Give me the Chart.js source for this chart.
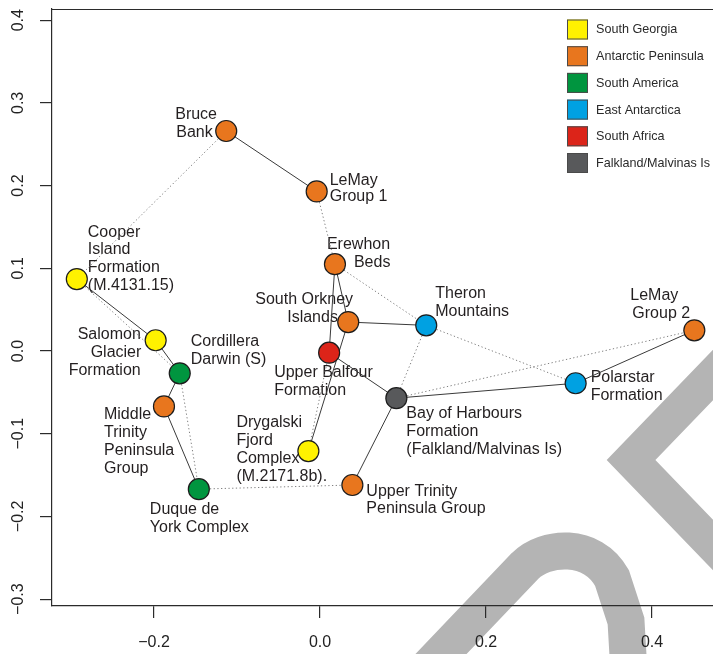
<!DOCTYPE html>
<html>
<head>
<meta charset="utf-8">
<script src="https://cdn.jsdelivr.net/npm/chart.js@4/dist/chart.umd.min.js"></script>
<style>
  html, body { margin: 0; padding: 0; background: #fff; overflow: hidden; }
  #wrap { width: 713px; height: 654px; }
</style>
</head>
<body>
<div id="wrap"><canvas id="c" width="713" height="654"></canvas></div>
<script>
// Site labels (one entry per text line), ordination scores and source region
const siteLabels = [
  ['Bruce', 'Bank'],
  ['LeMay', 'Group 1'],
  ['Cooper', 'Island', 'Formation', '(M.4131.15)'],
  ['Erewhon', 'Beds'],
  ['South Orkney', 'Islands'],
  ['Theron', 'Mountains'],
  ['LeMay', 'Group 2'],
  ['Upper Balfour', 'Formation'],
  ['Salomon', 'Glacier', 'Formation'],
  ['Cordillera', 'Darwin (S)'],
  ['Bay of Harbours', 'Formation', '(Falkland/Malvinas Is)'],
  ['Polarstar', 'Formation'],
  ['Middle', 'Trinity', 'Peninsula', 'Group'],
  ['Drygalski', 'Fjord', 'Complex', '(M.2171.8b).'],
  ['Upper Trinity', 'Peninsula Group'],
  ['Duque de', 'York Complex']
];
const siteX = [-0.113, -0.004, -0.293, 0.018, 0.034, 0.128, 0.451, 0.011,
               -0.198, -0.169, 0.092, 0.308, -0.188, -0.014, 0.039, -0.146];
const siteY = [0.266, 0.193, 0.087, 0.105, 0.035, 0.031, 0.025, -0.002,
               0.013, -0.027, -0.057, -0.039, -0.067, -0.121, -0.162, -0.167];
const groupNames = ['South Georgia', 'Antarctic Peninsula', 'South America',
                    'East Antarctica', 'South Africa', 'Falkland/Malvinas Is'];
const siteGroup = ['Antarctic Peninsula', 'Antarctic Peninsula', 'South Georgia',
                   'Antarctic Peninsula', 'Antarctic Peninsula', 'East Antarctica',
                   'Antarctic Peninsula', 'South Africa', 'South Georgia', 'South America',
                   'Falkland/Malvinas Is', 'East Antarctica', 'Antarctic Peninsula',
                   'South Georgia', 'Antarctic Peninsula', 'South America'];

// Links between sites: solid and dotted connections
const solidLinks = [
  ['Bruce Bank', 'LeMay Group 1'],
  ['Cooper Island Formation (M.4131.15)', 'Salomon Glacier Formation'],
  ['Salomon Glacier Formation', 'Cordillera Darwin (S)'],
  ['Cordillera Darwin (S)', 'Middle Trinity Peninsula Group'],
  ['Middle Trinity Peninsula Group', 'Duque de York Complex'],
  ['Erewhon Beds', 'Upper Balfour Formation'],
  ['Erewhon Beds', 'South Orkney Islands'],
  ['South Orkney Islands', 'Theron Mountains'],
  ['South Orkney Islands', 'Drygalski Fjord Complex (M.2171.8b).'],
  ['Upper Balfour Formation', 'Bay of Harbours Formation (Falkland/Malvinas Is)'],
  ['Bay of Harbours Formation (Falkland/Malvinas Is)', 'Polarstar Formation'],
  ['Polarstar Formation', 'LeMay Group 2'],
  ['Bay of Harbours Formation (Falkland/Malvinas Is)', 'Upper Trinity Peninsula Group']
];
const dottedLinks = [
  ['Bruce Bank', 'Cooper Island Formation (M.4131.15)'],
  ['LeMay Group 1', 'Erewhon Beds'],
  ['Cooper Island Formation (M.4131.15)', 'Cordillera Darwin (S)'],
  ['Cordillera Darwin (S)', 'Duque de York Complex'],
  ['Duque de York Complex', 'Upper Trinity Peninsula Group'],
  ['Upper Balfour Formation', 'Drygalski Fjord Complex (M.2171.8b).'],
  ['Erewhon Beds', 'Theron Mountains'],
  ['Theron Mountains', 'Bay of Harbours Formation (Falkland/Malvinas Is)'],
  ['Theron Mountains', 'Polarstar Formation'],
  ['Bay of Harbours Formation (Falkland/Malvinas Is)', 'LeMay Group 2']
];

// Axis ticks
const xTicks = [-0.2, 0.0, 0.2, 0.4];
const xTickLabels = ['\u22120.2', '0.0', '0.2', '0.4'];
const yTicks = [-0.3, -0.2, -0.1, 0.0, 0.1, 0.2, 0.3, 0.4];
const yTickLabels = ['\u22120.3', '\u22120.2', '\u22120.1', '0.0', '0.1', '0.2', '0.3', '0.4'];

// ---- styling ----
const groupColors = ['#FFF200', '#E8761E', '#00953F', '#00A1E2', '#DC2419', '#58595B'];
const FONT = '"Liberation Sans", Arial, Helvetica, sans-serif';
const INK = '#231f20';
// pixel offsets of each label line (left edge, vertical middle) from its site marker
const labelOffsets = [
  [[-51, -16], [-50, 2]],
  [[13, -11], [13, 5]],
  [[11, -46], [11, -29], [11, -11], [11, 7]],
  [[-8, -20], [19, -2]],
  [[-93, -22], [-61, -4]],
  [[9, -32], [9, -14]],
  [[-64, -35], [-62, -17]],
  [[-55, 20], [-55, 38]],
  [[-78, -6], [-65, 12], [-87, 30]],
  [[11, -32], [11, -14]],
  [[10, 15], [10, 33], [10, 51]],
  [[15, -6], [15, 12]],
  [[-60, 8], [-60, 26], [-60, 44], [-60, 62]],
  [[-72, -28], [-72, -10], [-72, 8], [-72, 26]],
  [[14, 7], [14, 24]],
  [[-49, 20], [-49, 38]]
];

const siteNames = siteLabels.map(l => l.join(' '));
const siteIndex = Object.fromEntries(siteNames.map((n, i) => [n, i]));
const pointOf = i => ({ x: siteX[i], y: siteY[i] });

function linkDatasets(links, dash, color) {
  return links.map(([a, b]) => ({
    type: 'line',
    data: [pointOf(siteIndex[a]), pointOf(siteIndex[b])],
    showLine: true,
    borderColor: color,
    borderWidth: 1,
    borderDash: dash,
    pointRadius: 0,
    pointHoverRadius: 0,
    fill: false,
    tension: 0,
    order: 2
  }));
}

const groupDatasets = groupNames.map((g, k) => ({
  type: 'scatter',
  label: g,
  data: siteNames.map((_, i) => i).filter(i => siteGroup[i] === g).map(pointOf),
  backgroundColor: groupColors[k],
  borderColor: '#1c1c1c',
  borderWidth: 1.2,
  pointRadius: 10.5,
  pointHoverRadius: 10.5,
  order: 0
}));

// Grey watermark strokes behind the plot
const watermark = {
  id: 'watermark',
  beforeDraw(chart) {
    const ctx = chart.ctx;
    ctx.save();
    ctx.strokeStyle = '#b4b4b4';
    ctx.lineCap = 'butt';
    ctx.lineJoin = 'miter';
    // arch
    ctx.lineWidth = 37;
    ctx.beginPath();
    ctx.moveTo(420, 676);
    ctx.lineTo(525, 566);
    ctx.bezierCurveTo(545, 546, 592, 542, 612, 578);
    ctx.lineTo(626, 621);
    ctx.lineTo(630, 690);
    ctx.stroke();
    // chevron
    ctx.lineWidth = 35;
    ctx.beginPath();
    ctx.moveTo(770, 316);
    ctx.lineTo(631, 460);
    ctx.lineTo(770, 604);
    ctx.stroke();
    ctx.restore();
  }
};

// Multi-line site labels
const siteText = {
  id: 'siteText',
  beforeDatasetsDraw(chart) {
    const { ctx, scales: { x, y } } = chart;
    ctx.save();
    ctx.font = '16px ' + FONT;
    ctx.fillStyle = INK;
    ctx.textAlign = 'left';
    ctx.textBaseline = 'middle';
    siteLabels.forEach((lines, i) => {
      const px = x.getPixelForValue(siteX[i]);
      const py = y.getPixelForValue(siteY[i]);
      lines.forEach((t, j) => {
        const [dx, dy] = labelOffsets[i][j];
        ctx.fillText(t, px + dx, py + dy);
      });
    });
    ctx.restore();
  }
};

// Region key in the upper right corner
const regionKey = {
  id: 'regionKey',
  afterDatasetsDraw(chart) {
    const ctx = chart.ctx;
    const area = chart.chartArea;
    const left = area.right - 146, top = area.top + 10.5, step = 26.7;
    ctx.save();
    ctx.font = '12.6px ' + FONT;
    ctx.textAlign = 'left';
    ctx.textBaseline = 'middle';
    groupNames.forEach((g, k) => {
      const yy = top + k * step;
      ctx.fillStyle = groupColors[k];
      ctx.fillRect(left, yy, 21, 20);
      ctx.strokeStyle = '#4a4a4a';
      ctx.lineWidth = 1;
      ctx.strokeRect(left + 0.5, yy + 0.5, 20, 19);
      ctx.fillStyle = '#2a2a2a';
      ctx.fillText(g, left + 29, yy + 10.5);
    });
    ctx.restore();
  }
};

// Top edge of the plot frame
const frameTop = {
  id: 'frameTop',
  afterDraw(chart) {
    const { ctx, chartArea: a } = chart;
    ctx.save();
    ctx.strokeStyle = '#2b2b2b';
    ctx.lineWidth = 1.2;
    ctx.beginPath();
    ctx.moveTo(a.left, Math.round(a.top) + 0.5);
    ctx.lineTo(a.right, Math.round(a.top) + 0.5);
    ctx.stroke();
    ctx.restore();
  }
};

const axisColor = '#2b2b2b';
const noScalePadding = s => { s.paddingTop = 0; s.paddingBottom = 0; s.paddingLeft = 0; s.paddingRight = 0; };

new Chart(document.getElementById('c'), {
  type: 'scatter',
  data: {
    datasets: [
      ...groupDatasets,
      ...linkDatasets(solidLinks, [], '#3a3a3a'),
      ...linkDatasets(dottedLinks, [1.3, 2.4], '#808080')
    ]
  },
  options: {
    responsive: false,
    animation: false,
    events: [],
    layout: { autoPadding: false, padding: { top: 9, right: 0, bottom: 0, left: 0 } },
    plugins: {
      legend: { display: false },
      tooltip: { enabled: false }
    },
    scales: {
      x: {
        type: 'linear',
        min: -0.3229,
        max: 0.4735,
        afterBuildTicks: s => { s.ticks = xTicks.map(v => ({ value: v })); },
        afterFit: s => { s.height = 48; noScalePadding(s); },
        ticks: {
          callback: (v, i) => xTickLabels[i],
          font: { family: FONT, size: 16 },
          color: '#222',
          padding: 15,
          maxRotation: 0,
          minRotation: 0
        },
        grid: { drawOnChartArea: false, drawTicks: true, tickLength: 12, color: axisColor, lineWidth: 1.2 },
        border: { display: true, color: axisColor, width: 1.2 }
      },
      y: {
        type: 'linear',
        min: -0.3083,
        max: 0.4135,
        afterBuildTicks: s => { s.ticks = yTicks.map(v => ({ value: v })); },
        afterFit: s => { s.width = 52; noScalePadding(s); },
        ticks: {
          callback: (v, i) => yTickLabels[i],
          font: { family: FONT, size: 16, lineHeight: 1 },
          color: '#222',
          padding: 6,
          minRotation: 90,
          maxRotation: 90,
          crossAlign: 'center'
        },
        grid: { drawOnChartArea: false, drawTicks: true, tickLength: 12, color: axisColor, lineWidth: 1.2 },
        border: { display: true, color: axisColor, width: 1.2 }
      }
    }
  },
  plugins: [watermark, siteText, regionKey, frameTop]
});
</script>
</body>
</html>
